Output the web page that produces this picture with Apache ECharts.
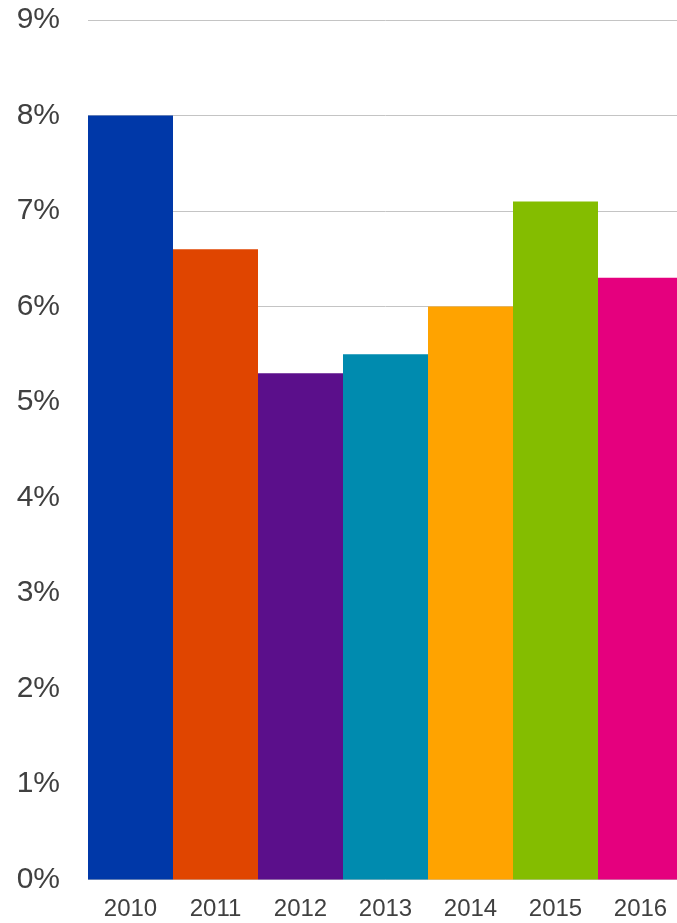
<!DOCTYPE html>
<html>
<head>
<meta charset="utf-8">
<script src="https://cdn.jsdelivr.net/npm/echarts@6/dist/echarts.min.js"></script>
<style>
  html, body { margin: 0; padding: 0; background: #ffffff; overflow: hidden; }
  /* the plot runs a few pixels past the right edge of the window */
  #chart { width: 683px; height: 923px; }
</style>
</head>
<body>
<div id="chart"></div>
<script>
// Yearly rate, in percent
const years = ['2010', '2011', '2012', '2013', '2014', '2015', '2016'];
const rates = [8.0, 6.6, 5.3, 5.5, 6.0, 7.1, 6.3];
const barColors = ['#0038A8', '#E04500', '#5B0F8B', '#008BAF', '#FFA300', '#84BD00', '#E5007E'];
const yMin = 0, yMax = 9, yStep = 1;

const chart = echarts.init(document.getElementById('chart'), null, { renderer: 'canvas' });

chart.setOption({
  animation: false,
  backgroundColor: '#ffffff',
  grid: { left: 88, top: 20, right: 0, bottom: 43.5, containLabel: false },
  xAxis: {
    type: 'category',
    data: years,
    axisLine: { show: false },
    axisTick: { show: false },
    axisLabel: {
      margin: 18,
      color: '#404040',
      fontFamily: '"Liberation Sans", Arial, sans-serif',
      fontSize: 24,
      verticalAlign: 'top',
      lineHeight: 24
    }
  },
  yAxis: {
    type: 'value',
    min: yMin,
    max: yMax,
    interval: yStep,
    axisLine: { show: false },
    axisTick: { show: false },
    splitLine: { lineStyle: { color: '#c4c4c4', width: 1 } },
    axisLabel: {
      margin: 28,
      color: '#404040',
      fontFamily: '"Liberation Sans", Arial, sans-serif',
      fontSize: 30,
      padding: [5, 0, 0, 0],
      formatter: v => v + '%'
    }
  },
  series: [{
    type: 'bar',
    barWidth: '100%',
    barCategoryGap: '0%',
    data: rates.map((v, i) => ({ value: v, itemStyle: { color: barColors[i] } }))
  }]
});
</script>
</body>
</html>
